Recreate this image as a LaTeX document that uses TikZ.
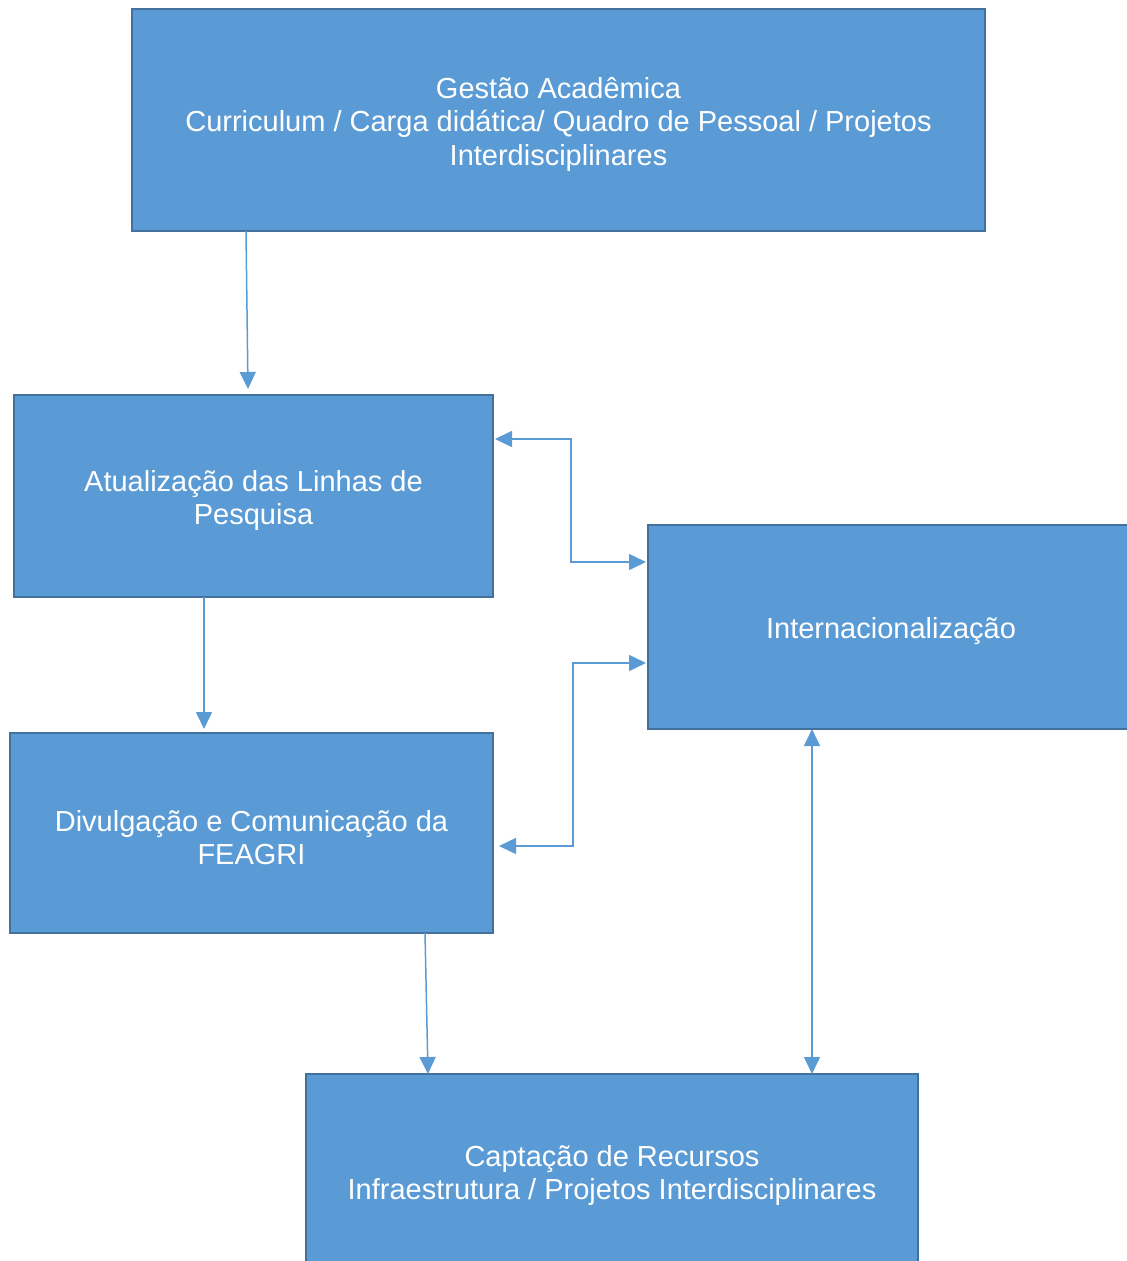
\documentclass[tikz,border=0pt]{standalone}
\usepackage{fontspec}
\setmainfont{Liberation Sans}
\usetikzlibrary{arrows.meta,calc}
\definecolor{boxfill}{HTML}{5B9BD5}
\definecolor{boxline}{HTML}{41719C}
\definecolor{arrcol}{HTML}{5B9BD5}
\begin{document}
\begin{tikzpicture}[x=1pt,y=-1pt,
  box/.style={draw=boxline,line width=2.5pt,fill=boxfill,rectangle,inner sep=0pt,outer sep=0pt,
    align=center,text=white,font=\fontsize{29}{33.5}\selectfont},
  tip/.tip={Triangle[length=17pt,width=16pt]},
  arr/.style={draw=arrcol,line width=1.5pt,-tip},
  darr/.style={draw=arrcol,line width=1.5pt,tip-tip}]
\useasboundingbox (0,0) rectangle (1127,1261);
\clip (0,0) rectangle (1127,1261);
\node[box,minimum width=853,minimum height=222] (g) at (558.5,120)
  {\rule{0pt}{30pt}Gestão Acadêmica\\Curriculum / Carga didática/ Quadro de Pessoal / Projetos\\Interdisciplinares};
\node[box,minimum width=479,minimum height=202] (a) at (253.5,496)
  {\rule{0pt}{30pt}Atualização das Linhas de\\Pesquisa};
\node[box,minimum width=483,minimum height=200] (d) at (251.5,833)
  {\rule{0pt}{30pt}Divulgação e Comunicação da\\FEAGRI};
\node[box,minimum width=486,minimum height=204] (i) at (891,627)
  {\rule{0pt}{30pt}Internacionalização};
\node[box,minimum width=612,minimum height=194] (c) at (612,1171)
  {\rule{0pt}{30pt}Captação de Recursos\\Infraestrutura / Projetos Interdisciplinares};
% arrows
\draw[arr] ($(g.south west)+(114,0)$) -- ($(a.north west)+(234,-6)$);
\draw[arr] ($(a.south west)+(190,0)$) -- ($(d.north west)+(194,-4)$);
\draw[arr] ($(d.south west)+(415,0)$) -- ($(c.north west)+(122,0)$);
\draw[darr] ($(i.south west)+(164,0)$) -- ($(c.north west)+(506,0)$);
\coordinate (e1) at ($(a.north east)+(78,44)$);
\coordinate (e2) at ($(i.north west)+(-2,37)$);
\draw[darr] ($(a.north east)+(2,44)$) -- (e1) -- (e1 |- e2) -- (e2);
\coordinate (f1) at ($(d.north east)+(80,113)$);
\coordinate (f2) at ($(i.north west)+(-2,138)$);
\draw[darr] ($(d.north east)+(6,113)$) -- (f1) -- (f1 |- f2) -- (f2);
\end{tikzpicture}
\end{document}
